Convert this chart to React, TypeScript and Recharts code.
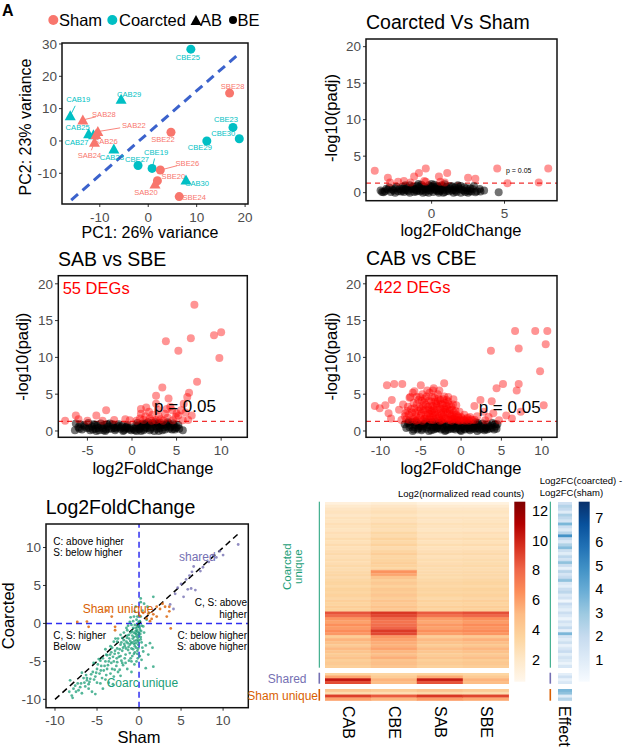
import React from 'react';
import {
  ScatterChart,
  Scatter,
  XAxis,
  YAxis,
  ReferenceLine,
  BarChart,
  Bar,
  Cell,
} from 'recharts';

const FONT = '"Liberation Sans", Arial, Helvetica, sans-serif';

// ---------- PCA (panel A) ----------
const pcaSamples = ['CBE25', 'SBE28', 'CAB29', 'CAB19', 'SAB28', 'CAB25', 'SAB22', 'CAB27', 'SAB26', 'SAB24', 'CAB23',
  'SBE22', 'CBE23', 'CBE30', 'CBE29', 'CBE27', 'CBE19', 'SBE26', 'SBE20', 'SAB20', 'CAB30', 'SBE24'];
const pcaPC1 = [8.8, 16.8, -5.6, -16.1, -13.5, -12.3, -10.4, -11.3, -10.8, -11.1, -7.1, 4.7, 17.5, 18.8, 12.1, -2.1, 0.8, 2.5, 1.9, 1.4, 7.8, 6.4];
const pcaPC2 = [28.4, 14.8, 12.9, 7.8, 6.5, 2.2, 2.9, 1.9, 2.0, -0.4, -2.5, 2.7, 4.2, 0.7, 0.0, -7.6, -8.5, -9.0, -12.3, -13.3, -12.1, -17.2];

// label placement (px offset from the point, and whether a repel segment is drawn)
const pcaLabelOffset: Record<string, [number, number, number]> = {
  CBE25: [-3, 8, 0], SBE28: [3, -7, 0], CAB29: [8, -5, 0], CAB19: [8, -16, 1], SAB28: [21, -5, 1],
  CAB25: [-11, -6, 0], SAB22: [36, -6, 1], CAB27: [-17, 8, 0], SAB26: [10, 7, 0], SAB24: [-5, 13, 1],
  CAB23: [-2, 8, 0], SBE22: [-8, 7, 0], CBE23: [-7, -8, 0], CBE30: [-16, -5, 0], CBE29: [-7, 7, 0],
  CBE27: [-1, -6, 0], CBE19: [4, -16, 1], SBE26: [27, -7, 1], SBE20: [16, -4, 0], SAB20: [-9, 9, 0],
  CAB30: [11, 3, 0], SBE24: [15, 1, 0],
};

// ---------- volcano plots ----------
const cvsSig: [number, number][] = [
  [-3.9, 3.0], [-3.0, 2.05], [-2.85, 1.4], [-2.3, 1.5], [-1.9, 1.6], [-1.45, 1.4], [-1.2, 2.2], [-0.87, 2.7],
  [-0.4, 3.3], [-0.5, 1.6], [-0.4, 1.5], [0.5, 2.2], [0.6, 1.5], [0.9, 1.4], [1.07, 2.7], [2.5, 2.05],
  [3.0, 1.9], [4.5, 3.3], [5.2, 1.3], [7.35, 1.4], [8.0, 3.3],
];
const cvsNs: [number, number][] = [
  [-3.5, 0.3], [-3.2, 0.2], [-3.0, 0.4], [-2.8, 0.1], [-2.6, 0.3], [-2.5, 0.6], [-2.3, 0.2], [-2.2, 0.5], [-2.0, 0.8],
  [-1.9, 0.1], [-1.8, 0.4], [-1.7, 0.7], [-1.6, 0.2], [-1.5, 1.0], [-1.4, 0.5], [-1.3, 0.8], [-1.2, 0.1], [-1.1, 0.4],
  [-1.0, 0.9], [-0.9, 0.6], [-0.8, 0.2], [-0.7, 1.1], [-0.6, 0.4], [-0.5, 0.8], [-0.4, 0.1], [-0.3, 0.6], [-0.2, 1.0],
  [-0.1, 0.3], [0.0, 0.7], [0.1, 0.1], [0.2, 1.1], [0.3, 0.5], [0.4, 0.9], [0.5, 0.2], [0.6, 0.7], [0.7, 1.0],
  [0.8, 0.4], [0.9, 0.1], [1.0, 0.8], [1.1, 0.5], [1.2, 0.2], [1.3, 0.9], [1.5, 0.4], [1.6, 0.7], [1.7, 0.1],
  [1.9, 0.5], [2.0, 0.9], [2.2, 0.3], [2.4, 0.6], [2.6, 0.2], [2.8, 0.5], [2.9, 0.9], [3.1, 0.2], [3.35, 0.15],
  [3.6, 0.3], [4.6, 0.05], [-2.9, 0.7], [-1.0, 0.3], [0.2, 0.4], [1.4, 0.3], [-0.4, 0.5], [0.6, 0.3], [-2.0, 0.3],
  [2.3, 0.1], [-0.2, 0.0], [0.5, 0.0], [-1.5, 0.0], [1.5, 0.0], [-2.5, 0.0], [2.5, 0.0], [-3.3, 0.05], [3.0, 0.05],
  [-2.7, 0.45], [-2.4, 0.8], [-2.1, 0.15], [-1.95, 0.55], [-1.65, 0.35], [-1.35, 0.65], [-1.05, 0.15], [-0.85, 0.85],
  [-0.65, 0.3], [-0.45, 0.65], [-0.25, 0.35], [-0.05, 0.85], [0.15, 0.55], [0.35, 0.25], [0.45, 0.75], [0.65, 0.5],
  [0.85, 0.85], [1.05, 0.25], [1.25, 0.6], [1.45, 0.85], [1.65, 0.3], [1.85, 0.7], [2.05, 0.4], [2.25, 0.75],
  [2.45, 0.3], [2.65, 0.6], [2.75, 0.15], [-3.1, 0.55], [-0.9, 1.2], [0.0, 1.2], [0.9, 1.15], [-1.8, 1.0], [1.8, 1.0],
  [3.3, 0.5], [-3.4, 0.1], [-0.6, 0.0], [0.8, 0.0], [2.0, 0.0], [-1.2, 0.5], [0.3, 0.8],
];

const sabSig: [number, number][] = [
  [7.0, 17.15], [3.8, 12.2], [5.2, 10.9], [6.6, 12.6], [9.2, 13.0], [10.0, 13.4], [9.8, 9.9], [7.3, 6.7], [3.4, 5.9],
  [2.7, 4.8], [4.1, 4.4], [6.4, 5.2], [6.2, 4.6], [5.8, 3.7], [2.7, 3.7], [-7.5, 1.4], [-6.3, 2.1], [-6.0, 1.6],
  [-4.0, 2.1], [-2.9, 2.8], [-3.3, 1.4], [-0.75, 1.6], [1.0, 3.0], [1.6, 3.2], [1.0, 2.35], [0.9, 1.7], [2.0, 1.7],
  [3.7, 2.35], [4.5, 2.8], [5.2, 2.1], [5.5, 2.8], [6.7, 2.1], [5.7, 1.45], [4.6, 1.45], [2.7, 1.45], [-0.25, 1.45],
  [1.3, 1.5], [3.2, 1.6], [6.0, 2.5], [4.9, 1.9], [1.5, 2.0], [2.3, 2.2], [3.0, 2.0], [4.0, 1.8], [4.3, 3.3],
  [2.2, 1.4], [3.5, 1.4], [0.5, 1.4], [5.0, 2.4], [6.3, 1.5], [1.9, 2.6], [2.9, 2.9], [3.9, 3.0], [-5.0, 1.4], [-2.0, 1.5],
];
const sabNs: [number, number][] = [
  [-6.4, 0.1], [-6.3, 1.0], [-6.0, 0.5], [-5.6, 0.2], [-5.4, 0.8], [-5.1, 0.4], [-4.9, 1.1], [-4.7, 0.1], [-4.5, 0.6],
  [-4.3, 0.9], [-4.1, 0.3], [-3.9, 0.7], [-3.7, 0.1], [-3.5, 1.0], [-3.3, 0.4], [-3.1, 0.8], [-2.9, 0.2], [-2.7, 0.6],
  [-2.5, 1.0], [-2.3, 0.3], [-2.1, 0.7], [-1.9, 0.1], [-1.7, 0.5], [-1.5, 0.9], [-1.3, 0.3], [-1.1, 0.7], [-0.9, 0.1],
  [-0.7, 0.5], [-0.5, 0.8], [-0.3, 0.2], [-0.1, 0.1], [0.2, 0.3], [0.4, 0.7], [0.6, 1.1], [0.8, 0.2], [1.0, 0.6],
  [1.2, 1.0], [1.4, 0.3], [1.6, 0.8], [1.8, 1.2], [2.0, 0.1], [2.2, 0.5], [2.4, 0.9], [2.6, 1.2], [2.8, 0.3],
  [3.0, 0.7], [3.2, 1.1], [3.4, 0.1], [3.6, 0.5], [3.8, 0.9], [4.0, 1.2], [4.2, 0.3], [4.4, 0.7], [4.6, 1.0],
  [4.8, 0.2], [5.0, 0.5], [5.2, 0.8], [5.7, 0.1], [-5.8, 0.9], [-3.0, 0.0], [-1.0, 0.0], [1.0, 0.0], [3.0, 0.0],
  [-2.0, 0.4], [2.5, 0.0], [-4.0, 0.0], [0.5, 0.0], [1.5, 0.5], [3.5, 0.8], [-0.5, 0.4],
  [-5.9, 0.3], [-5.3, 0.6], [-4.8, 0.4], [-4.4, 0.2], [-4.2, 0.8], [-3.8, 0.4], [-3.4, 0.7], [-3.2, 0.1], [-2.8, 0.9],
  [-2.6, 0.3], [-2.2, 0.9], [-1.8, 0.3], [-1.6, 0.7], [-1.2, 0.5], [-0.8, 0.3], [-0.6, 0.6], [-0.2, 0.4], [0.3, 0.1],
  [0.5, 0.5], [0.7, 0.8], [0.9, 0.4], [1.1, 0.8], [1.3, 0.1], [1.5, 1.0], [1.7, 0.4], [1.9, 0.8], [2.1, 0.3],
  [2.3, 1.1], [2.7, 0.6], [2.9, 1.0], [3.1, 0.4], [3.3, 0.8], [3.7, 0.2], [3.9, 0.6], [4.1, 1.0], [4.3, 0.5],
  [4.5, 0.2], [4.7, 0.8], [4.9, 0.4], [5.3, 0.3],
];

const cabSig: [number, number][] = [
  [6.7, 13.6], [9.2, 13.6], [10.7, 13.6], [10.5, 11.8], [3.7, 10.9], [7.15, 11.2], [9.8, 8.1], [7.15, 6.4], [6.9, 5.5],
  [5.2, 6.4], [4.4, 5.8], [3.8, 4.05], [2.4, 4.2], [10.25, 3.5], [7.4, 2.6], [4.0, 2.4], [3.0, 1.45], [4.7, 1.45],
  [1.65, 3.4], [2.0, 2.0], [1.2, 1.6], [2.8, 2.6], [3.4, 1.9], [5.6, 2.1], [6.3, 1.7],
  [-10.7, 3.4], [-10.1, 3.1], [-9.4, 3.5], [-9.2, 6.2], [-8.3, 6.4], [-7.3, 6.4], [-8.6, 4.2], [-7.7, 2.9], [-8.7, 1.7],
  [-9.0, 2.4], [-6.9, 2.4], [-6.4, 4.5], [-5.8, 5.4], [-5.0, 6.2], [-2.1, 6.5], [-3.5, 5.5], [-2.7, 5.5], [-0.95, 4.3],
  [-0.6, 3.5], [-6.3, 4.6], [-7.2, 3.6],
  [-6.8, 1.6], [-6.5, 2.2], [-6.2, 3.0], [-6.0, 1.9], [-5.9, 3.8], [-5.7, 2.5], [-5.5, 4.6], [-5.4, 1.5], [-5.2, 3.2],
  [-5.0, 2.1], [-4.9, 4.1], [-4.8, 5.0], [-4.7, 2.8], [-4.5, 1.7], [-4.4, 3.6], [-4.3, 4.7], [-4.1, 2.4], [-4.0, 3.0],
  [-3.9, 5.2], [-3.8, 1.9], [-3.7, 4.0], [-3.6, 2.7], [-3.5, 3.4], [-3.4, 1.5], [-3.3, 4.5], [-3.2, 2.2], [-3.1, 3.7],
  [-3.0, 2.9], [-2.9, 5.0], [-2.8, 1.8], [-2.7, 3.2], [-2.6, 4.2], [-2.5, 2.5], [-2.4, 1.5], [-2.3, 3.6], [-2.2, 2.0],
  [-2.1, 4.7], [-2.0, 2.9], [-1.9, 1.7], [-1.8, 3.4], [-1.7, 2.4], [-1.6, 4.0], [-1.5, 1.5], [-1.4, 2.8], [-1.3, 2.0],
  [-1.2, 3.3], [-1.0, 1.6], [-0.9, 2.5], [-0.8, 1.9], [-0.6, 2.2], [-0.5, 1.5], [-0.3, 1.8], [-0.1, 1.5], [0.2, 1.7],
  [0.5, 1.4], [0.8, 1.8], [1.0, 1.4], [1.4, 1.5], [-6.0, 5.2], [-5.6, 1.4], [-6.6, 3.3], [-4.6, 3.9], [-3.9, 2.3],
  [-2.9, 4.0], [-2.0, 3.8], [-1.1, 2.9], [-5.1, 4.6], [-4.2, 5.5], [-3.4, 5.8], [-1.6, 4.6], [-4.8, 1.4], [-3.7, 1.5],
  [-2.6, 1.4], [-5.3, 2.7], [-4.4, 2.2], [-3.5, 2.4], [-2.2, 2.6], [-1.2, 1.4], [-7.0, 2.0], [-7.4, 1.5], [-0.2, 2.6], [0.4, 2.2],
  [-6.7, 2.7], [-6.4, 1.5], [-6.1, 2.5], [-5.9, 1.6], [-5.8, 3.1], [-5.6, 2.1], [-5.5, 3.6], [-5.3, 4.2], [-5.1, 1.8],
  [-5.0, 3.0], [-4.9, 2.4], [-4.7, 3.4], [-4.6, 1.6], [-4.5, 4.4], [-4.4, 2.9], [-4.2, 1.9], [-4.1, 3.3], [-4.0, 4.1],
  [-3.9, 1.6], [-3.8, 2.8], [-3.7, 3.5], [-3.6, 4.6], [-3.5, 1.9], [-3.4, 3.0], [-3.3, 2.5], [-3.2, 4.0], [-3.1, 1.7],
  [-3.0, 3.4], [-2.9, 2.3], [-2.8, 4.4], [-2.7, 2.0], [-2.6, 3.0], [-2.5, 3.7], [-2.4, 2.2], [-2.3, 1.6], [-2.2, 4.3],
  [-2.1, 3.1], [-2.0, 1.7], [-1.9, 2.6], [-1.8, 4.2], [-1.7, 3.0], [-1.6, 1.8], [-1.5, 3.6], [-1.4, 2.3], [-1.3, 1.6],
  [-1.1, 2.2], [-1.0, 3.6], [-0.9, 1.7], [-0.7, 2.7], [-0.6, 1.6], [-0.4, 2.0], [-0.2, 1.4], [0.0, 1.9], [0.3, 1.5],
  [0.7, 1.6], [1.1, 1.9], [1.7, 1.5],
];
const cabNs: [number, number][] = [
  [-7.0, 0.9], [-6.6, 1.1], [-6.4, 0.5], [-6.1, 1.2], [-5.9, 0.2], [-5.7, 0.8], [-5.5, 1.1], [-5.3, 0.4], [-5.1, 0.9],
  [-4.9, 0.1], [-4.7, 0.6], [-4.5, 1.0], [-4.3, 0.3], [-4.1, 0.8], [-3.9, 1.2], [-3.7, 0.1], [-3.5, 0.5], [-3.3, 0.9],
  [-3.1, 0.3], [-2.9, 0.7], [-2.7, 1.1], [-2.5, 0.2], [-2.3, 0.6], [-2.1, 1.0], [-1.9, 0.1], [-1.7, 0.5], [-1.5, 0.9],
  [-1.3, 0.3], [-1.1, 0.7], [-0.9, 1.1], [-0.7, 0.2], [-0.5, 0.6], [-0.3, 1.0], [-0.1, 0.1], [0.1, 0.5], [0.3, 0.9],
  [0.5, 0.2], [0.7, 0.6], [0.9, 1.0], [1.1, 0.1], [1.3, 0.5], [1.5, 0.9], [1.7, 0.3], [1.9, 0.7], [2.1, 1.1],
  [2.3, 0.2], [2.5, 0.6], [2.7, 1.0], [2.9, 0.1], [3.1, 0.5], [3.3, 0.9], [3.5, 0.3], [3.7, 0.7], [3.9, 1.1],
  [4.1, 0.2], [4.3, 0.6], [4.5, 0.9], [-6.0, 0.0], [-4.0, 0.0], [-2.0, 0.0], [0.0, 0.0], [2.0, 0.0], [-3.0, 0.4],
  [-1.0, 0.3], [1.0, 0.3], [3.0, 0.3], [-5.0, 0.6], [-3.6, 1.2], [-2.4, 1.2], [-0.8, 1.2], [0.6, 1.2], [1.8, 1.2],
  [-6.8, 0.4], [-6.3, 0.8], [-5.8, 0.5], [-5.4, 0.2], [-5.2, 0.7], [-4.8, 0.3], [-4.6, 0.9], [-4.2, 0.5], [-3.8, 0.7],
  [-3.4, 0.2], [-3.2, 0.6], [-2.8, 0.4], [-2.6, 0.8], [-2.2, 0.3], [-1.8, 0.8], [-1.6, 0.2], [-1.2, 0.5], [-1.0, 0.9],
  [-0.6, 0.4], [-0.4, 0.8], [-0.2, 0.3], [0.2, 0.7], [0.4, 0.3], [0.8, 0.4], [1.0, 0.8], [1.4, 0.3], [1.6, 0.6],
  [2.0, 0.4], [2.2, 0.8], [2.6, 0.3], [2.8, 0.7], [3.2, 0.2], [3.4, 0.6], [3.8, 0.4], [4.2, 0.9], [4.4, 0.3],
  [-6.5, 1.3], [-5.6, 1.3], [-4.4, 1.3], [-3.2, 1.3],
];

// ---------- log2FC comparison (panel E) ----------
const coarcUnique: [number, number][] = [
  [-0.2, -0.5], [-0.4, -1.0], [-0.1, -1.5], [-0.6, -1.8], [-0.3, -2.2], [-0.8, -2.5], [-0.1, -2.8], [-0.5, -3.0],
  [-1.0, -1.2], [-1.2, -2.0], [-0.9, -3.3], [0.1, -0.8], [0.2, -1.8], [0.3, -0.3], [-0.05, 0.2], [-0.3, 0.5],
  [0.2, 0.9], [-0.7, -0.6], [-1.4, -1.6], [-1.1, -2.8], [0.3, -2.5], [0.4, -3.2], [-0.2, -3.6], [-1.5, -2.4],
  [-1.3, -3.5], [-0.6, -4.0], [0.1, -4.3], [-1.8, -2.2], [-1.7, -3.0], [-2.0, -3.6], [-1.6, -4.1], [-2.2, -2.8],
  [-2.4, -4.4], [-2.6, -3.3], [-2.1, -4.9], [-2.9, -4.0], [-3.0, -5.0], [-2.7, -5.6], [-3.3, -3.8], [-3.5, -4.6],
  [-3.7, -5.5], [-3.2, -6.0], [-4.0, -5.0], [-4.2, -6.2], [-3.9, -6.8], [-4.5, -5.6], [-4.7, -6.6], [-4.4, -7.2],
  [-5.0, -6.0], [-5.2, -7.0], [-5.5, -6.4], [-5.0, -7.8], [-5.8, -7.3], [-6.0, -8.0], [-6.3, -6.8], [-6.5, -7.8],
  [-6.0, -8.6], [-7.0, -8.4], [-7.3, -7.9], [-7.5, -9.0], [-7.8, -8.6], [-8.0, -9.5], [-8.2, -7.5], [-6.8, -9.2],
  [-5.6, -9.0], [-1.0, 0.8], [-0.5, 1.6], [0.2, 2.8], [1.0, 2.2], [1.7, 3.5], [0.9, 0.5], [0.5, -0.4], [0.6, -1.2],
  [1.3, -2.6], [1.6, -3.2], [1.7, -5.7], [0.8, -5.9], [0.3, -4.8], [-1.0, -4.6], [-1.9, -5.5], [-2.5, -6.4],
  [-3.0, -7.0], [-3.6, -7.8], [-2.2, -1.5], [-3.0, -2.4], [-4.0, -3.4], [-1.5, -0.6], [-0.4, -2.6], [-0.7, -3.4],
  [-0.2, -4.0], [-0.9, -5.0], [0.0, -1.2], [-0.35, -1.4], [-0.15, -2.4], [-0.5, -0.2], [0.1, 0.3], [-1.6, -5.2],
  [-2.8, -2.0], [-4.8, -4.7], [-5.4, -5.2], [-6.8, -6.5], [-3.4, -3.0], [-2.3, -6.1], [-1.3, -0.3], [-0.8, -1.6],
  [-1.1, -3.9], [-0.3, -5.0], [0.2, 3.3], [-0.6, 0.9], [-2.6, -2.4], [-3.8, -4.2], [-4.6, -4.9], [-6.2, -7.2],
  [-0.1, -0.3], [-0.25, -0.9], [-0.45, -1.3], [-0.15, -1.9], [-0.55, -2.3], [-0.05, -2.2], [-0.35, -3.2],
  [-0.75, -2.0], [-0.95, -2.6], [-0.65, -1.2], [-0.2, -1.1], [-0.4, -0.6], [0.05, -0.5], [0.15, -1.4], [-0.85, -1.0],
  [-1.2, -1.5], [-1.05, -2.3], [-1.35, -2.6], [-1.25, -3.1], [-1.55, -3.3], [-1.45, -1.9], [-1.75, -2.7],
  [-1.9, -3.2], [-2.1, -2.5], [-2.3, -3.4], [-2.45, -3.9], [-2.2, -4.3], [-2.65, -4.6], [-2.85, -3.6], [-3.1, -4.4],
  [-3.3, -5.2], [-3.45, -4.1], [-3.6, -5.0], [-3.8, -6.0], [-4.1, -5.6], [-4.3, -4.6], [-4.55, -6.2], [-4.9, -5.4],
  [-5.1, -6.5], [-5.35, -7.4], [-5.7, -6.7], [-5.9, -7.7], [-6.2, -7.5], [-6.4, -8.3], [-6.6, -7.2], [-6.9, -7.9],
  [-7.2, -8.8], [-7.6, -8.2], [-8.3, -9.0], [-7.9, -9.8], [-0.5, -3.8], [-0.8, -4.3], [-1.2, -4.9], [-1.7, -4.6],
  [-2.0, -5.2], [-2.6, -5.1], [-2.9, -6.1], [-3.4, -6.6], [-4.0, -7.4], [-4.6, -7.9], [-0.3, -1.7], [-0.6, -2.7],
  [-0.1, -3.3], [0.2, -2.1], [0.25, -1.0], [-0.7, 0.3], [-0.9, -0.2], [-1.1, 0.2], [-0.2, 0.9], [0.4, 1.7],
  [-0.4, 2.2], [0.6, 2.6], [1.2, 1.4], [0.8, -2.9], [1.1, -4.1], [0.5, -3.7], [-1.8, -1.2], [-2.5, -2.0],
  [-3.2, -3.2], [-3.9, -4.1], [-1.4, -0.9], [-2.0, -1.9], [-0.15, -4.6], [-0.55, -5.4], [-1.4, -6.0], [-2.2, -6.9],
  [-0.9, -6.4], [-3.1, -8.0], [-4.3, -8.6], [-5.2, -9.3],
];
const shamUnique: [number, number][] = [
  [-7.35, 0.2], [-6.0, -0.45], [-6.2, 0.25], [-3.25, 0.9], [-2.85, -0.45], [-2.85, -0.9], [-3.85, 1.7], [0.9, 0.65],
  [1.1, 1.3], [1.7, 1.2], [2.1, 2.2], [2.5, 1.9], [3.1, 2.2], [3.6, 2.2], [3.3, 0.9], [3.77, -0.66], [2.1, 0.9],
  [1.5, 0.6], [0.1, 1.0], [0.5, 1.4], [2.8, 2.6], [3.6, 1.6], [1.3, 0.3],
];
const sharedGenes: [number, number][] = [
  [11.8, 10.4], [10.0, 9.0], [9.6, 9.5], [9.2, 8.7], [8.3, 8.1], [7.3, 6.9], [6.5, 7.5], [6.3, 6.8], [6.0, 6.3],
  [5.6, 5.8], [5.0, 5.2], [4.6, 4.7], [5.8, 4.5], [6.7, 4.4], [6.2, 4.6], [5.3, 3.5], [3.7, 2.5], [4.1, 1.9],
  [4.3, 3.9], [7.6, 7.4], [8.8, 9.0],
];

// ---------- heatmap (panel F) ----------
const heatColumns = ['CAB', 'CBE', 'SAB', 'SBE'];
const heatMain: number[][] = [
  [1.2, 1.5, 1.1, 1.1], [1.8, 2.1, 1.7, 1.7], [2.2, 2.4, 2.1, 2.1], [2.4, 2.7, 2.3, 2.3], [2.1, 2.3, 2.0, 2.0],
  [2.5, 2.8, 2.4, 2.4], [2.3, 2.6, 2.2, 2.3], [2.7, 3.1, 2.6, 2.6], [2.5, 2.9, 2.4, 2.5], [2.3, 2.7, 2.2, 2.2],
  [2.7, 3.3, 2.6, 2.7], [2.5, 3.0, 2.4, 2.5], [2.9, 3.6, 2.8, 2.9], [2.6, 3.2, 2.5, 2.6], [3.0, 3.7, 2.9, 3.0],
  [2.6, 3.0, 2.5, 2.5], [2.8, 3.4, 2.7, 2.8], [3.1, 3.9, 3.0, 3.1], [2.7, 3.3, 2.6, 2.7], [3.0, 3.5, 2.9, 3.0],
  [2.8, 3.8, 2.8, 2.9], [3.2, 3.7, 3.1, 3.2], [2.9, 3.3, 2.9, 2.9], [3.1, 6.4, 3.0, 3.1], [3.3, 5.8, 3.1, 3.2],
  [3.0, 4.5, 2.9, 3.0], [3.3, 3.8, 3.2, 3.3], [3.5, 4.2, 3.4, 3.5], [3.2, 3.7, 3.2, 3.2], [3.6, 4.3, 3.5, 3.6],
  [3.4, 4.0, 3.3, 3.4], [3.7, 4.4, 3.6, 3.7], [3.3, 3.9, 3.2, 3.3], [3.8, 4.5, 3.7, 3.8], [3.5, 4.1, 3.4, 3.5],
  [3.9, 4.6, 3.8, 3.9], [3.6, 4.2, 3.5, 3.7], [8.6, 9.4, 8.4, 8.7], [7.8, 8.9, 7.6, 8.0], [6.3, 7.9, 6.1, 6.5],
  [5.9, 7.5, 5.7, 6.1], [6.5, 7.7, 6.2, 6.6], [6.1, 8.1, 5.9, 6.3], [6.6, 9.3, 6.5, 6.7], [6.2, 8.9, 6.0, 6.3],
  [4.0, 6.2, 3.9, 4.2], [5.3, 5.9, 5.1, 5.4], [4.7, 5.5, 4.6, 4.8], [4.1, 5.3, 4.0, 4.3], [5.1, 5.9, 4.9, 5.2],
  [4.5, 5.2, 4.4, 4.7], [4.0, 4.7, 3.9, 4.1], [4.6, 5.5, 4.5, 4.8], [3.9, 4.5, 3.8, 4.0], [4.2, 4.8, 4.1, 4.3],
  [3.8, 4.4, 3.7, 3.9],
];
const heatShared: number[][] = [
  [3.6, 3.4, 3.6, 3.4], [5.8, 4.0, 5.6, 4.1], [10.4, 5.3, 10.2, 5.3], [8.8, 4.9, 8.6, 4.9],
];
const heatShamUnique: number[][] = [
  [4.4, 4.0, 4.5, 4.1], [3.0, 2.8, 3.1, 2.9], [9.2, 8.4, 9.4, 9.0], [5.9, 5.3, 6.1, 5.7],
];
const effectMain = [
  1.6, 2.4, 2.0, 1.0, 2.6, 2.1, 1.4, 3.6, 1.8, 1.1, 2.3,
  4.8, 2.0, 1.2, 2.5, 3.4, 1.7, 0.9, 2.2, 1.5, 3.2,
  1.8, 0.7, 2.3, 1.4, 2.0, 3.2, 1.2, 0.8, 1.8, 2.2,
  1.1, 1.5, 0.4, 1.9, 1.3, 0.8, 1.8, 1.2, 0.5, 1.5,
  1.0, 2.0, 0.7, 3.6, 1.4, 0.9, 1.7, 0.6, 1.3, 1.9,
  0.8, 1.5, 1.1, 0.5, 1.3,
];
const effectShared = [0.8, 1.6, 0.6, 1.2];
const effectShamUnique = [3.6, 3.2, 1.0, 2.4];

// ---------- styling helpers ----------
const SHAM_COL = '#F8766D';
const COARC_COL = '#00BFC4';
const ORRD = ['#FFF7EC', '#FEE8C8', '#FDD49E', '#FDBB84', '#FC8D59', '#EF6548', '#D7301F', '#B30000', '#7F0000'];
const BLUES = ['#F7FBFF', '#DEEBF7', '#C6DBEF', '#9ECAE1', '#6BAED6', '#4292C6', '#2171B5', '#08519C', '#08306B'];

const hexRgb = (h: string) => [1, 3, 5].map((i) => parseInt(h.slice(i, i + 2), 16));
const ramp = (stops: string[], lo: number, hi: number) => (v: number) => {
  const t = Math.min(1, Math.max(0, (v - lo) / (hi - lo))) * (stops.length - 1);
  const i = Math.min(stops.length - 2, Math.floor(t));
  const f = t - i;
  const a = hexRgb(stops[i]);
  const b = hexRgb(stops[i + 1]);
  return `rgb(${a.map((c, k) => Math.round(c + (b[k] - c) * f)).join(',')})`;
};
const heatColor = ramp(ORRD, 0.55, 12.6);
const effectColor = ramp(BLUES, 0.08, 7.7);

const YW = 40;
const XH = 30;
const M = 8;
type Box = { x0: number; y0: number; x1: number; y1: number };
const frame = (b: Box) => ({
  style: { position: 'absolute' as const, left: b.x0 - YW - M, top: b.y0 - M },
  width: b.x1 - b.x0 + YW + 2 * M,
  height: b.y1 - b.y0 + XH + 2 * M,
  margin: { top: M, right: M, bottom: M, left: M },
});
const tickStyle = { fill: '#4D4D4D', fontSize: 13.5, fontFamily: FONT };
const toXY = (pts: [number, number][]) => pts.map(([x, y]) => ({ x, y }));
const dot = (fill: string, r: number) => (p: any) => <circle cx={p.cx} cy={p.cy} r={r} fill={fill} />;

const axes = (xd: number[], xt: number[], yd: number[], yt: number[]) => [
  <XAxis key="x" type="number" dataKey="x" domain={xd} ticks={xt} interval={0} allowDataOverflow height={XH}
    tickSize={3} tickMargin={5} axisLine={false} tickLine={{ stroke: '#333' }} tick={tickStyle} />,
  <YAxis key="y" type="number" dataKey="y" domain={yd} ticks={yt} interval={0} allowDataOverflow width={YW}
    tickSize={3} tickMargin={2} axisLine={false} tickLine={{ stroke: '#333' }} tick={tickStyle} />,
];

const pcaShape = (p: any) => {
  const d = p.payload;
  const col = d.name[0] === 'S' ? SHAM_COL : COARC_COL;
  const [dx, dy, seg] = pcaLabelOffset[d.name] || [0, 8, 0];
  return (
    <g>
      {seg ? (
        <line x1={p.cx} y1={p.cy} x2={p.cx + dx * 0.62} y2={p.cy + dy * 0.62} stroke={col} strokeWidth={0.9} />
      ) : null}
      {d.name.slice(1, 3) === 'AB' ? (
        <polygon points={`${p.cx - 5.5},${p.cy + 4.5} ${p.cx + 5.5},${p.cy + 4.5} ${p.cx},${p.cy - 5.5}`} fill={col} />
      ) : (
        <circle cx={p.cx} cy={p.cy} r={4.5} fill={col} />
      )}
      <text x={p.cx + dx} y={p.cy + dy} fontSize={7.6} fill={col} textAnchor="middle" dominantBaseline="central"
        fontFamily={FONT}>{d.name}</text>
    </g>
  );
};

const Volcano = ({ box, xd, xt, yd, sig, ns }: { box: Box; xd: number[]; xt: number[]; yd: number[];
  sig: [number, number][]; ns: [number, number][] }) => {
  const f = frame(box);
  return (
    <div style={f.style}>
      <ScatterChart width={f.width} height={f.height} margin={f.margin}>
        {axes(xd, xt, yd, [0, 5, 10, 15, 20])}
        <Scatter data={toXY(ns)} shape={dot('rgba(0,0,0,0.55)', 4)} isAnimationActive={false} />
        <Scatter data={toXY(sig)} shape={dot('rgba(255,0,0,0.42)', 4)} isAnimationActive={false} />
        <ReferenceLine y={1.3} stroke="#F03030" strokeDasharray="5 4" strokeWidth={1.3} />
      </ScatterChart>
    </div>
  );
};

const HeatBlock = ({ rows, box, color }: { rows: number[][]; box: Box; color: (v: number) => string }) => {
  const n = rows[0].length;
  const data = rows.map((_r, i) => ({ id: i, c0: 1, c1: 1, c2: 1, c3: 1 }));
  return (
    <div style={{ position: 'absolute', left: box.x0, top: box.y0 }}>
      <BarChart width={box.x1 - box.x0} height={box.y1 - box.y0} data={data} layout="vertical"
        margin={{ top: 0, right: 0, bottom: 0, left: 0 }} barCategoryGap={0} barGap={0}>
        <XAxis type="number" domain={[0, n]} hide />
        <YAxis type="category" dataKey="id" hide />
        {Array.from({ length: n }, (_v, c) => (
          <Bar key={c} dataKey={`c${c}`} stackId="h" isAnimationActive={false}>
            {rows.map((r, i) => (
              <Cell key={i} fill={color(r[c])} stroke={color(r[c])} strokeWidth={0.4} />
            ))}
          </Bar>
        ))}
      </BarChart>
    </div>
  );
};

const T = ({ x, y, s, children, anchor = 'start', fill = '#000', rot = 0, weight = 'normal' }: any) => (
  <text x={x} y={y} fontSize={s} textAnchor={anchor} dominantBaseline="central" fill={fill} fontWeight={weight}
    transform={rot ? `rotate(${rot} ${x} ${y})` : undefined}>{children}</text>
);

const boxA = { x0: 62, y0: 43, x1: 248, y1: 204 };
const boxB = { x0: 366, y0: 39, x1: 557, y1: 200.7 };
const boxC = { x0: 58.3, y0: 275.7, x1: 247.3, y1: 437.3 };
const boxD = { x0: 366, y0: 275.7, x1: 557, y1: 437.3 };
const boxE = { x0: 46, y0: 524, x1: 248.3, y1: 707.7 };
const heatX = { x0: 325.3, x1: 509.3 };
const effX = { x0: 557.7, x1: 571.7 };
const blockY = [{ y0: 501.7, y1: 667.7 }, { y0: 672.7, y1: 683.7 }, { y0: 689, y1: 700.7 }];

export default function App() {
  const fA = frame(boxA);
  const fE = frame(boxE);
  const pcaData = pcaSamples.map((name, i) => ({ name, x: pcaPC1[i], y: pcaPC2[i] }));
  const colCenters = heatColumns.map((_c, i) => heatX.x0 + ((heatX.x1 - heatX.x0) / 4) * (i + 0.5));
  const blockCols = ['#1B9E77', '#7570B3', '#D95F02'];
  return (
    <div style={{ position: 'absolute', left: 0, top: 0, width: 625, height: 749, background: '#fff', fontFamily: FONT }}>
      {/* A: PCA */}
      <div style={fA.style}>
        <ScatterChart width={fA.width} height={fA.height} margin={fA.margin}>
          {axes([-17.8, 20.6], [-10, 0, 10, 20], [-19.5, 30.3], [-10, 0, 10, 20, 30])}
          <ReferenceLine segment={[{ x: -15.9, y: -18.3 }, { x: 19, y: 27.3 }]} stroke="#3B62CC" strokeWidth={3}
            strokeDasharray="9 6" />
          <Scatter data={pcaData} shape={pcaShape} isAnimationActive={false} />
        </ScatterChart>
      </div>

      {/* B, C, D: volcano plots */}
      <Volcano box={boxB} xd={[-4.5, 8.6]} xt={[0, 5]} yd={[-1.1, 21.05]} sig={cvsSig} ns={cvsNs} />
      <Volcano box={boxC} xd={[-8.3, 12.9]} xt={[-5, 0, 5, 10]} yd={[-0.9, 21.06]} sig={sabSig} ns={sabNs} />
      <Volcano box={boxD} xd={[-11.8, 11.9]} xt={[-10, -5, 0, 5, 10]} yd={[-0.9, 21.06]} sig={cabSig} ns={cabNs} />

      {/* E: log2FC comparison */}
      <div style={fE.style}>
        <ScatterChart width={fE.width} height={fE.height} margin={fE.margin}>
          {axes([-11.07, 13.0], [-10, -5, 0, 5, 10], [-11.1, 13.1], [-10, -5, 0, 5, 10])}
          <ReferenceLine x={0} stroke="#2F2FF0" strokeDasharray="6 4" strokeWidth={1.5} />
          <ReferenceLine y={0} stroke="#2F2FF0" strokeDasharray="6 4" strokeWidth={1.5} />
          <ReferenceLine segment={[{ x: -10, y: -10 }, { x: 12, y: 12 }]} stroke="#000" strokeDasharray="6 4"
            strokeWidth={1.5} />
          <Scatter data={toXY(coarcUnique)} shape={dot('rgba(27,158,119,0.75)', 1.4)} isAnimationActive={false} />
          <Scatter data={toXY(shamUnique)} shape={dot('rgba(217,95,2,0.8)', 1.4)} isAnimationActive={false} />
          <Scatter data={toXY(sharedGenes)} shape={dot('rgba(117,112,179,0.8)', 1.4)} isAnimationActive={false} />
        </ScatterChart>
      </div>

      {/* F: heatmap + effect column */}
      {[heatMain, heatShared, heatShamUnique].map((rows, i) => (
        <HeatBlock key={`h${i}`} rows={rows} box={{ ...heatX, ...blockY[i] }} color={heatColor} />
      ))}
      {[effectMain, effectShared, effectShamUnique].map((vals, i) => (
        <HeatBlock key={`e${i}`} rows={vals.map((v) => [v])} box={{ ...effX, ...blockY[i] }} color={effectColor} />
      ))}

      <svg width={625} height={749} style={{ position: 'absolute', left: 0, top: 0, pointerEvents: 'none' }}
        fontFamily={FONT}>
        <defs>
          <linearGradient id="gRed" x1="0" y1="1" x2="0" y2="0">
            {ORRD.map((c, i) => <stop key={i} offset={i / (ORRD.length - 1)} stopColor={c} />)}
          </linearGradient>
          <linearGradient id="gBlue" x1="0" y1="1" x2="0" y2="0">
            {BLUES.map((c, i) => <stop key={i} offset={i / (BLUES.length - 1)} stopColor={c} />)}
          </linearGradient>
        </defs>

        {/* panel borders */}
        {[boxA, boxB, boxC, boxD, boxE].map((b, i) => (
          <rect key={i} x={b.x0} y={b.y0} width={b.x1 - b.x0} height={b.y1 - b.y0} fill="none" stroke="#111"
            strokeWidth={1.5} />
        ))}

        {/* panel A */}
        <T x={2} y={10} s={16} weight="bold">A</T>
        <circle cx={53.3} cy={20} r={5} fill={SHAM_COL} />
        <T x={59} y={20} s={16.5}>Sham</T>
        <circle cx={112.3} cy={20} r={5} fill={COARC_COL} />
        <T x={119} y={20} s={16.5}>Coarcted</T>
        <polygon points="190.5,25 201.5,25 196,15" fill="#000" />
        <T x={200} y={20} s={16.5}>AB</T>
        <circle cx={233} cy={20} r={4} fill="#000" />
        <T x={237.5} y={20} s={16.5}>BE</T>
        <T x={25} y={127} s={16} anchor="middle" rot={-90}>PC2: 23% variance</T>
        <T x={150} y={232} s={16} anchor="middle">PC1: 26% variance</T>

        {/* panel B */}
        <T x={366} y={22} s={19.5}>Coarcted Vs Sham</T>
        <T x={331} y={118} s={16.5} anchor="middle" rot={-90}>-log10(padj)</T>
        <T x={461} y={230} s={16.5} anchor="middle">log2FoldChange</T>
        <T x={506} y={170} s={7}>p = 0.05</T>

        {/* panel C */}
        <T x={58} y={259.3} s={19.5}>SAB vs SBE</T>
        <T x={22} y={356.7} s={16.5} anchor="middle" rot={-90}>-log10(padj)</T>
        <T x={153} y={468} s={16.5} anchor="middle">log2FoldChange</T>
        <T x={62.7} y={287.7} s={16.5} fill="#FF0000">55 DEGs</T>
        <T x={154} y={406.7} s={17}>p = 0.05</T>

        {/* panel D */}
        <T x={366} y={258.3} s={19.5}>CAB vs CBE</T>
        <T x={331} y={356.5} s={16.5} anchor="middle" rot={-90}>-log10(padj)</T>
        <T x={461} y={468} s={16.5} anchor="middle">log2FoldChange</T>
        <T x={374.3} y={286.7} s={16.5} fill="#FF0000">422 DEGs</T>
        <T x={478.7} y={407.7} s={17}>p = 0.05</T>

        {/* panel E */}
        <T x={45.7} y={506.7} s={19.5}>Log2FoldChange</T>
        <T x={8.5} y={615.7} s={16.5} anchor="middle" rot={-90}>Coarcted</T>
        <T x={139} y={736.5} s={16.5} anchor="middle">Sham</T>
        <T x={53.3} y={541.7} s={10}>C: above higher</T>
        <T x={53.3} y={552.7} s={10}>S: below higher</T>
        <T x={247} y={602.7} s={10} anchor="end">C, S: above</T>
        <T x={247} y={614} s={10} anchor="end">higher</T>
        <T x={53.3} y={635.7} s={10}>C, S: higher</T>
        <T x={53.3} y={646.7} s={10}>Below</T>
        <T x={247} y={635.7} s={10} anchor="end">C: below higher</T>
        <T x={247} y={646.7} s={10} anchor="end">S: above higher</T>
        <T x={179} y={557.3} s={12} fill="#7570B3">shared</T>
        <T x={82.7} y={609.3} s={12} fill="#D95F02">Sham unique</T>
        <T x={106.7} y={682.7} s={12} fill="#1B9E77">Coarc unique</T>

        {/* panel F annotations */}
        <T x={287.3} y={566.7} s={11.5} anchor="middle" rot={-90} fill="#1B9E77">Coarcted</T>
        <T x={298.3} y={566.7} s={11.5} anchor="middle" rot={-90} fill="#1B9E77">unique</T>
        <T x={306.5} y={679} s={12} anchor="end" fill="#7570B3">Shared</T>
        <T x={318} y={695.7} s={12} anchor="end" fill="#D95F02">Sham unique</T>
        {blockY.map((b, i) => (
          <g key={i}>
            <line x1={319.3} x2={319.3} y1={b.y0} y2={b.y1} stroke={blockCols[i]} strokeWidth={i ? 1.6 : 1} />
            <line x1={550.3} x2={550.3} y1={b.y0} y2={b.y1} stroke={blockCols[i]} strokeWidth={i ? 1.6 : 1} />
          </g>
        ))}
        {heatColumns.map((c, i) => (
          <T key={c} x={colCenters[i]} y={706} s={16} rot={90}>{c}</T>
        ))}
        <T x={564.7} y={706} s={16} rot={90}>Effect</T>
        <T x={398} y={493.3} s={9.5}>Log2(normalized read counts)</T>
        <T x={539.7} y={480.5} s={9.5}>Log2FC(coarcted) -</T>
        <T x={539.7} y={492.7} s={9.5}>Log2FC(sham)</T>

        <rect x={514.3} y={501.7} width={11} height={180} fill="url(#gRed)" />
        {[12, 10, 8, 6, 4, 2].map((v) => (
          <T key={v} x={532} y={510.7 + (12 - v) * 14.93} s={14.5}>{v}</T>
        ))}
        <rect x={578.7} y={501.7} width={11} height={180} fill="url(#gBlue)" />
        {[7, 6, 5, 4, 3, 2, 1].map((v) => (
          <T key={v} x={595.3} y={518.3 + (7 - v) * 23.6} s={14.5}>{v}</T>
        ))}
      </svg>
    </div>
  );
}
